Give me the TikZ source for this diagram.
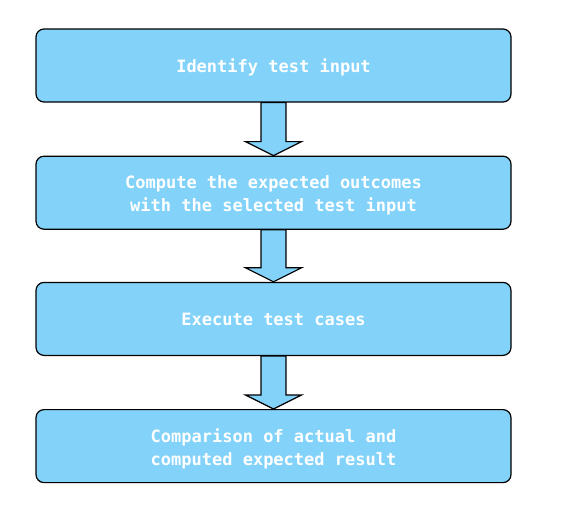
\documentclass[tikz,border=0pt]{standalone}
\usepackage{fontspec}
\setmonofont{DejaVu Sans Mono}
\usetikzlibrary{positioning}
\definecolor{boxblue}{RGB}{130,210,250}
\tikzset{
  stepbox/.style={draw, fill=boxblue, rounded corners=8pt, line width=1.2pt,
    minimum width=475pt, minimum height=73pt, text=white, align=center,
    text height=14pt, text depth=0pt,
    font=\ttfamily\bfseries\fontsize{17}{23}\selectfont},
  twoline/.style={text height=38pt},
  blockarrow/.style={draw, fill=boxblue, line width=1.2pt}
}
\begin{document}
\begin{tikzpicture}[x=1pt,y=1pt]
  \useasboundingbox (0,0) rectangle (561,-514);
  \node[stepbox] (input) at (273.5,-65.5) {Identify test input};
  \node[stepbox, twoline, below=53pt of input] (expect) {Compute the expected outcomes\\with the selected test input};
  \node[stepbox, below=52pt of expect] (exec) {Execute test cases};
  \node[stepbox, twoline, below=53pt of exec] (compare) {Comparison of actual and\\computed expected result};
  \foreach \a/\b in {input/expect, expect/exec, exec/compare}
    \draw[blockarrow] ([xshift=12.5pt]\a.south) -- ([xshift=12.5pt,yshift=14pt]\b.north)
      -- ([xshift=28pt,yshift=14pt]\b.north) -- (\b.north)
      -- ([xshift=-28pt,yshift=14pt]\b.north) -- ([xshift=-12.5pt,yshift=14pt]\b.north)
      -- ([xshift=-12.5pt]\a.south) -- cycle;
\end{tikzpicture}
\end{document}
